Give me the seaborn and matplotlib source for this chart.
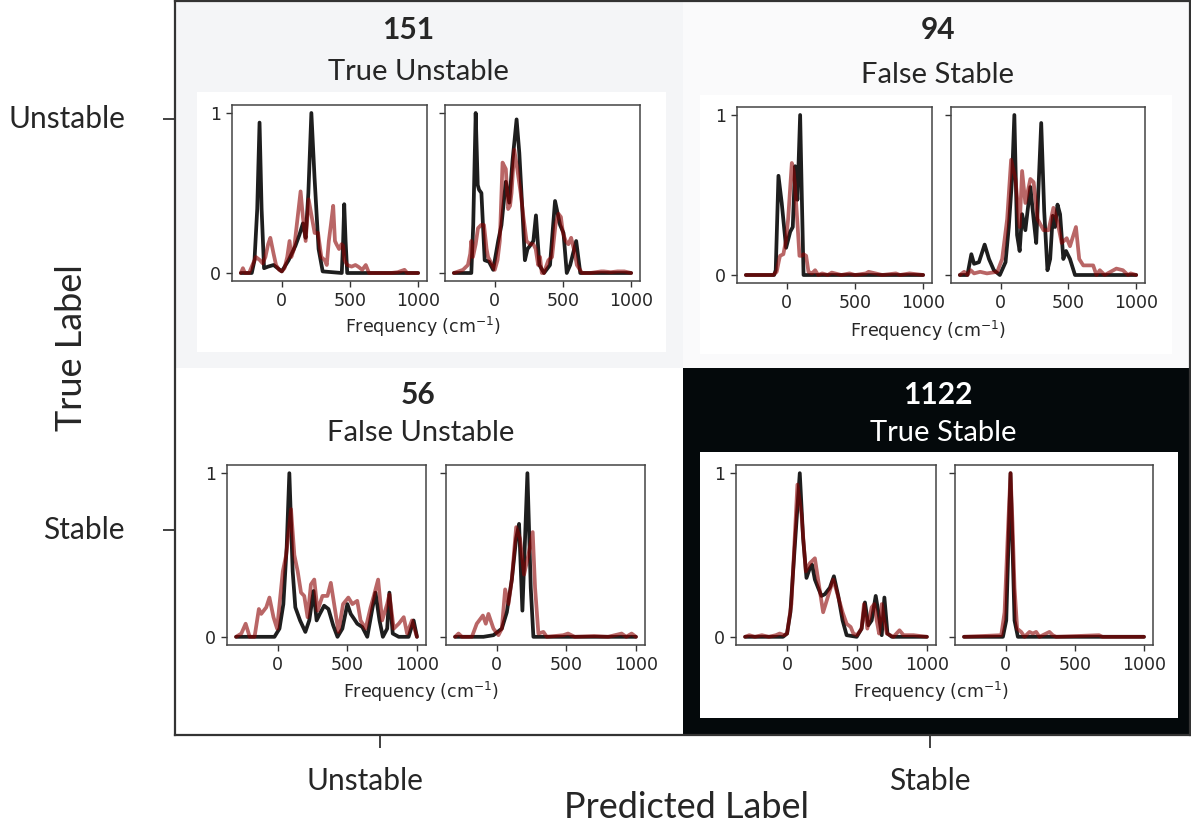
import matplotlib
matplotlib.use("Agg")
import matplotlib.pyplot as plt
import matplotlib.transforms as mtransforms
from matplotlib.colors import LinearSegmentedColormap
from matplotlib.patches import Rectangle
import seaborn as sns

# ---------------- confusion matrix ----------------
true_labels = ["Unstable", "Stable"]
pred_labels = ["Unstable", "Stable"]
counts = [[151, 94],
          [56, 1122]]
cell_names = [["True Unstable", "False Stable"],
              ["False Unstable", "True Stable"]]

# ---------------- example spectra (frequency in cm^-1, normalised intensity) ----------------
# True Unstable, example a
tu_a_ref_f = [-300, -220, -200, -180, -163, -148, -130, -100, -60, -30, 0, 50, 100, 130, 155, 175, 195, 217, 240, 270, 300, 440, 450, 458, 468, 480, 1000]
tu_a_ref_i = [0, 0, 0.08, 0.4, 0.94, 0.4, 0.03, 0.04, 0.05, 0.03, 0.01, 0.08, 0.17, 0.24, 0.31, 0.22, 0.5, 1.0, 0.6, 0.15, 0.01, 0, 0.2, 0.43, 0.2, 0, 0]
tu_a_pred_f = [-300, -285, -270, -240, -215, -190, -160, -140, -120, -100, -84, -60, -42, -20, 0, 20, 40, 57, 70, 90, 110, 138, 155, 175, 197, 220, 241, 266, 290, 315, 330, 345, 360, 377, 390, 401, 420, 438, 450, 460, 480, 512, 540, 560, 590, 616, 640, 700, 800, 850, 900, 920, 1000]
tu_a_pred_i = [0, 0.03, 0, 0, 0.05, 0.1, 0.08, 0.06, 0.1, 0.18, 0.22, 0.12, 0.05, 0.02, 0.01, 0.03, 0.1, 0.2, 0.1, 0.15, 0.3, 0.51, 0.35, 0.2, 0.46, 0.35, 0.25, 0.25, 0.1, 0.08, 0.05, 0.2, 0.3, 0.42, 0.2, 0.18, 0.15, 0.18, 0.17, 0.08, 0.05, 0.04, 0.05, 0.04, 0.02, 0.05, 0, 0, 0, 0.005, 0.02, 0, 0]

# True Unstable, example b
tu_b_ref_f = [-300, -172, -158, -140, -125, -115, -98, -74, -42, -12, 25, 49, 81, 106, 130, 160, 180, 205, 221, 240, 258, 283, 302, 327, 361, 405, 442, 479, 504, 528, 553, 597, 627, 1000]
tu_b_ref_i = [0, 0, 0.3, 1.0, 0.55, 0.52, 0.5, 0.08, 0.07, 0.02, 0.2, 0.3, 0.57, 0.44, 0.7, 0.96, 0.75, 0.35, 0.08, 0.15, 0.17, 0.2, 0.36, 0.05, 0, 0.05, 0.45, 0.3, 0.25, 0, 0.05, 0.2, 0, 0]
tu_b_pred_f = [-300, -233, -197, -180, -172, -160, -140, -123, -100, -79, -60, -49, -25, 0, 20, 37, 57, 81, 98, 112, 123, 143, 165, 190, 210, 233, 258, 283, 300, 318, 332, 345, 360, 393, 420, 445, 467, 485, 500, 520, 540, 560, 580, 602, 640, 700, 780, 800, 850, 900, 950, 1000]
tu_b_pred_i = [0, 0.02, 0.05, 0.12, 0.2, 0.1, 0.18, 0.28, 0.3, 0.3, 0.15, 0.1, 0.06, 0.02, 0.08, 0.2, 0.69, 0.65, 0.4, 0.42, 0.5, 0.77, 0.65, 0.5, 0.35, 0.2, 0.18, 0.18, 0.15, 0.05, 0.1, 0.0, 0.0, 0.08, 0.1, 0.3, 0.37, 0.35, 0.25, 0.2, 0.18, 0.22, 0.15, 0.05, 0, 0, 0.01, 0.01, 0.005, 0.01, 0.01, 0]

# False Stable, example a
fs_a_ref_f = [-300, -93, -81, -61, -37, -5, 25, 44, 61, 78, 98, 110, 123, 1000]
fs_a_ref_i = [0, 0, 0.03, 0.62, 0.45, 0.17, 0.27, 0.3, 0.68, 0.47, 1.0, 0.5, 0.0, 0]
fs_a_pred_f = [-300, -100, -74, -55, -49, -25, -5, 10, 37, 50, 61, 80, 93, 110, 123, 142, 159, 185, 208, 230, 260, 300, 330, 400, 460, 500, 580, 600, 700, 800, 830, 900, 1000]
fs_a_pred_i = [0, 0, 0.02, 0.1, 0.12, 0.13, 0.22, 0.35, 0.7, 0.65, 0.55, 0.3, 0.12, 0.12, 0.13, 0.12, 0.02, 0.01, 0.03, 0.0, 0.01, 0.0, 0.015, 0.0, 0.01, 0.0, 0.01, 0.02, 0.0, 0.01, 0.0, 0.01, 0]

# False Stable, example b
fs_b_ref_f = [-300, -244, -215, -195, -159, -117, -85, -49, -5, 37, 61, 85, 102, 122, 141, 159, 183, 220, 244, 263, 300, 322, 346, 366, 385, 402, 420, 439, 463, 483, 512, 549, 1000]
fs_b_ref_i = [0, 0, 0.13, 0.07, 0.08, 0.19, 0.1, 0.03, 0, 0.08, 0.3, 0.6, 1.0, 0.25, 0.15, 0.38, 0.28, 0.55, 0.35, 0.2, 0.95, 0.4, 0.03, 0.1, 0.37, 0.3, 0.44, 0.38, 0.1, 0.15, 0.1, 0.0, 0]
fs_b_pred_f = [-300, -268, -244, -220, -195, -150, -100, -24, 12, 49, 78, 110, 141, 159, 183, 220, 244, 273, 317, 354, 390, 420, 451, 488, 512, 556, 580, 610, 683, 707, 732, 768, 854, 902, 939, 960, 1000]
fs_b_pred_i = [0, 0.02, 0, 0.03, 0.01, 0.02, 0.01, 0.02, 0.1, 0.35, 0.72, 0.6, 0.3, 0.65, 0.45, 0.6, 0.58, 0.35, 0.28, 0.28, 0.42, 0.33, 0.2, 0.23, 0.18, 0.3, 0.1, 0.06, 0.06, 0.0, 0.03, 0.0, 0.04, 0.03, 0.0, 0.01, 0]

# False Unstable, example a
fu_a_ref_f = [-300, -24, 12, 40, 64, 83, 107, 126, 160, 198, 226, 257, 279, 302, 333, 364, 398, 429, 464, 500, 524, 548, 571, 607, 643, 679, 702, 731, 755, 786, 802, 826, 869, 940, 976, 1000]
fu_a_ref_i = [0, 0, 0.05, 0.2, 0.55, 1.0, 0.4, 0.18, 0.1, 0.03, 0.1, 0.28, 0.1, 0.14, 0.19, 0.17, 0.07, 0.0, 0.05, 0.2, 0.14, 0.11, 0.08, 0.06, 0.0, 0.17, 0.27, 0.1, 0.0, 0.05, 0.27, 0.02, 0.0, 0.0, 0.1, 0.0]
fu_a_pred_f = [-300, -262, -231, -202, -167, -136, -119, -83, -60, -31, -5, 36, 60, 95, 119, 143, 167, 190, 214, 238, 262, 286, 321, 357, 381, 405, 436, 469, 507, 536, 571, 595, 631, 667, 690, 721, 750, 786, 802, 833, 869, 905, 929, 964, 1000]
fu_a_pred_i = [0, 0.02, 0.08, 0.0, 0.0, 0.17, 0.14, 0.18, 0.24, 0.12, 0.05, 0.4, 0.5, 0.78, 0.5, 0.4, 0.27, 0.25, 0.12, 0.32, 0.35, 0.16, 0.25, 0.25, 0.33, 0.2, 0.03, 0.2, 0.24, 0.2, 0.22, 0.1, 0.05, 0.18, 0.25, 0.35, 0.1, 0.2, 0.26, 0.05, 0.08, 0.12, 0.02, 0.1, 0.0]

# False Unstable, example b
fu_b_ref_f = [-300, -96, -24, 36, 72, 108, 139, 160, 184, 203, 220, 244, 263, 1000]
fu_b_ref_i = [0, 0, 0.01, 0.05, 0.15, 0.35, 0.6, 0.69, 0.16, 0.6, 1.0, 0.3, 0.0, 0]
fu_b_pred_f = [-300, -275, -250, -179, -144, -100, -79, -60, -24, 12, 36, 60, 84, 108, 139, 167, 196, 227, 258, 275, 299, 335, 359, 478, 512, 560, 700, 800, 897, 930, 969, 1000]
fu_b_pred_i = [0, 0.02, 0, 0, 0.08, 0.13, 0.08, 0.14, 0.05, 0.01, 0.05, 0.29, 0.2, 0.35, 0.67, 0.6, 0.38, 0.5, 0.64, 0.3, 0.02, 0.03, 0.0, 0.01, 0.02, 0.0, 0.005, 0.0, 0.02, 0.0, 0.02, 0]

# True Stable, example a
ts_a_ref_f = [-300, -29, 0, 24, 55, 91, 115, 139, 163, 179, 199, 222, 246, 270, 306, 335, 366, 397, 426, 498, 533, 557, 581, 605, 634, 653, 677, 696, 718, 749, 1000]
ts_a_ref_i = [0, 0, 0.02, 0.15, 0.55, 1.0, 0.6, 0.36, 0.42, 0.44, 0.35, 0.3, 0.25, 0.26, 0.3, 0.37, 0.25, 0.1, 0.01, 0, 0.05, 0.21, 0.07, 0.1, 0.25, 0.15, 0.01, 0.24, 0.02, 0, 0]
ts_a_pred_f = [-300, -270, -230, -180, -130, -80, -53, -20, 0, 31, 74, 103, 134, 163, 199, 222, 258, 294, 330, 354, 397, 426, 455, 474, 500, 533, 550, 574, 605, 624, 641, 658, 677, 694, 713, 761, 804, 833, 904, 1000]
ts_a_pred_i = [0, 0.01, 0.0, 0.01, 0.0, 0.01, 0.02, 0.01, 0.02, 0.2, 0.93, 0.75, 0.4, 0.45, 0.48, 0.35, 0.15, 0.25, 0.35, 0.28, 0.15, 0.08, 0.06, 0.02, 0.01, 0.05, 0.2, 0.05, 0.18, 0.2, 0.1, 0.02, 0.2, 0.1, 0.02, 0.0, 0.04, 0.01, 0.01, 0]

# True Stable, example b
ts_b_ref_f = [-300, -19, 5, 36, 65, 89, 1000]
ts_b_ref_i = [0, 0, 0.1, 1.0, 0.1, 0.0, 0]
ts_b_pred_f = [-300, -31, -7, 20, 36, 50, 65, 84, 113, 137, 173, 197, 221, 245, 317, 341, 365, 676, 700, 1000]
ts_b_pred_i = [0, 0.01, 0.15, 0.7, 1.0, 0.7, 0.3, 0.05, 0.03, 0.0, 0.03, 0.02, 0.03, 0.0, 0.03, 0.01, 0.0, 0.01, 0, 0]

freq_ticks = [0, 500, 1000]
intensity_ticks = [0, 1]

# ---------------- styling ----------------
sns.set_theme(style="ticks")
plt.rcParams["font.family"] = ["DejaVu Sans"]
LABEL_FONT = ["Lato", "DejaVu Sans"]
TEXT_DARK = "#262626"
SPINE = "#333333"

W, H = 1191, 825
fig = plt.figure(figsize=(W / 100, H / 100), dpi=100)


def fig_box(x0, y0, x1, y1):
    """Pixel box (top-left origin) -> figure fraction rect."""
    return [x0 / W, 1 - y1 / H, (x1 - x0) / W, (y1 - y0) / H]


# main confusion-matrix heatmap
ax = fig.add_axes(fig_box(175, 1, 1190, 735))
cmap = LinearSegmentedColormap.from_list(
    "cm_grey", [(0.0, "#ffffff"), (0.036, "#fafafb"), (0.09, "#f4f5f7"), (1.0, "#04090b")])
sns.heatmap(counts, cmap=cmap, vmin=56, vmax=1122, cbar=False, ax=ax,
            xticklabels=False, yticklabels=False)

for s in ax.spines.values():
    s.set_visible(True)
    s.set_color(SPINE)
    s.set_linewidth(1.6)

ax.set_xticks([0.404, 1.488])
ax.set_xticklabels(pred_labels, family=LABEL_FONT, fontsize=21.5, color=TEXT_DARK)
ax.set_yticks([0.321, 1.442])
ax.set_yticklabels(true_labels, family=LABEL_FONT, fontsize=21.5, color=TEXT_DARK,
                   rotation=0, va="center")
ax.tick_params(axis="x", length=9, width=1.3, color=SPINE, pad=14)
ax.tick_params(axis="y", length=9, width=1.3, color=SPINE, pad=27)
first = ax.get_xticklabels()[0]
first.set_transform(first.get_transform() +
                    mtransforms.ScaledTranslation(-0.15, 0, fig.dpi_scale_trans))

fig.text(72 / W, 1 - 348 / H, "True Label", rotation=90, ha="center", va="center",
         family=LABEL_FONT, fontsize=26, color=TEXT_DARK)
fig.text(686 / W, 1 - 818 / H, "Predicted Label", ha="center", va="baseline",
         family=LABEL_FONT, fontsize=26, color=TEXT_DARK)

# counts and cell names
count_pos = {(0, 0): (0.459, 38), (0, 1): (1.503, 38), (1, 0): (0.479, 403), (1, 1): (1.503, 403)}
name_pos = {(0, 0): (0.479, 79), (0, 1): (1.502, 82), (1, 0): (0.485, 440), (1, 1): (1.513, 440)}
for r in range(2):
    for c in range(2):
        col = "white" if counts[r][c] > 500 else TEXT_DARK
        cx, by = count_pos[(r, c)]
        ax.text(cx, by / 367.0, f"{counts[r][c]}", ha="center", va="baseline",
                family=LABEL_FONT, fontweight="bold", fontsize=21.5, color=col)
        nx, ny = name_pos[(r, c)]
        ax.text(nx, ny / 367.0, cell_names[r][c], ha="center", va="baseline",
                family=LABEL_FONT, fontsize=21, color=col)

# ---------------- inset spectra ----------------
panels = [
    # white box, left frame, right frame, xlabel centre/baseline, data
    dict(box=(197, 92, 666, 352), left=(232, 105, 427, 281), right=(445, 105, 640, 281),
         lab=(423, 333),
         a=(tu_a_ref_f, tu_a_ref_i, tu_a_pred_f, tu_a_pred_i),
         b=(tu_b_ref_f, tu_b_ref_i, tu_b_pred_f, tu_b_pred_i)),
    dict(box=(700, 95, 1172, 354), left=(737, 107, 932, 283), right=(951, 107, 1145, 283),
         lab=(928, 337),
         a=(fs_a_ref_f, fs_a_ref_i, fs_a_pred_f, fs_a_pred_i),
         b=(fs_b_ref_f, fs_b_ref_i, fs_b_pred_f, fs_b_pred_i)),
    dict(box=(190, 452, 670, 718), left=(227, 465, 426, 645), right=(446, 465, 645, 645),
         lab=(421, 698),
         a=(fu_a_ref_f, fu_a_ref_i, fu_a_pred_f, fu_a_pred_i),
         b=(fu_b_ref_f, fu_b_ref_i, fu_b_pred_f, fu_b_pred_i)),
    dict(box=(700, 452, 1178, 718), left=(736, 465, 936, 645), right=(955, 465, 1153, 645),
         lab=(931, 698),
         a=(ts_a_ref_f, ts_a_ref_i, ts_a_pred_f, ts_a_pred_i),
         b=(ts_b_ref_f, ts_b_ref_i, ts_b_pred_f, ts_b_pred_i)),
]

for p in panels:
    x0, y0, x1, y1 = p["box"]
    fig.patches.append(Rectangle((x0 / W, 1 - y1 / H), (x1 - x0) / W, (y1 - y0) / H,
                                 transform=fig.transFigure, facecolor="white",
                                 edgecolor="none", zorder=1))
    for key, frame, show_y in (("a", p["left"], True), ("b", p["right"], False)):
        iax = fig.add_axes(fig_box(*frame))
        iax.set_zorder(2)
        rf, ri, pf, pi = p[key]
        sns.lineplot(x=rf, y=ri, ax=iax, color="#1e1e1e", lw=2.7, sort=False, estimator=None)
        sns.lineplot(x=pf, y=pi, ax=iax, color="#8b0000", alpha=0.6, lw=2.7, sort=False,
                     estimator=None)
        iax.set_xticks(freq_ticks)
        iax.set_yticks(intensity_ticks)
        iax.tick_params(labelsize=12.5, length=4.5, width=1.0, color=SPINE,
                        labelcolor=TEXT_DARK)
        if not show_y:
            iax.set_yticklabels([])
        for s in iax.spines.values():
            s.set_visible(True)
            s.set_color("#444444")
            s.set_linewidth(1.1)
    lx, ly = p["lab"]
    fig.text(lx / W, 1 - ly / H, "Frequency (cm$^{-1}$)", ha="center", va="baseline",
             fontsize=12.5, color=TEXT_DARK, zorder=3)

fig.savefig("out.png", dpi=100)
